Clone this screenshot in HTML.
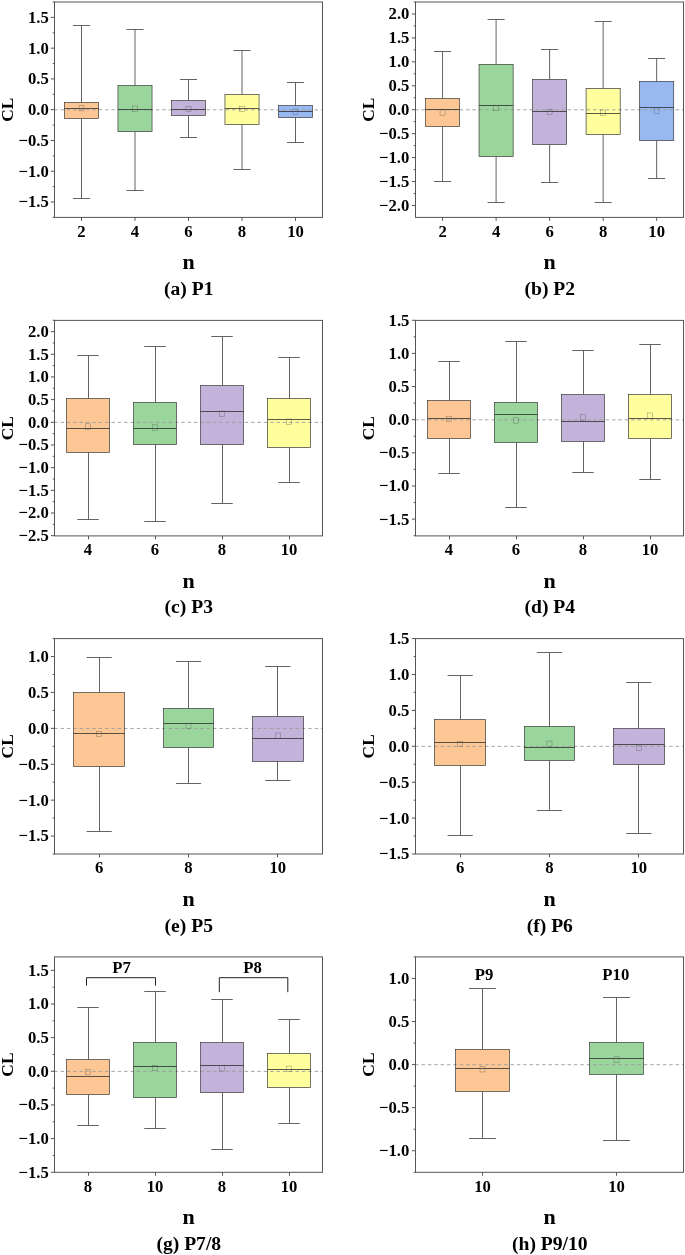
<!DOCTYPE html>
<html><head><meta charset="utf-8"><title>Box plots</title>
<style>
html,body{margin:0;padding:0;background:#fff}
svg{display:block}
text{font-family:"Liberation Serif","Times New Roman",serif;font-weight:bold;fill:#000}
.t{font-size:16.7px}
.n{font-size:22px}
.c{font-size:19.6px}
.l{font-size:17.4px}
</style></head><body>
<svg width="685" height="1255" viewBox="0 0 685 1255">
<rect width="685" height="1255" fill="#fff"/>
<g>
<path d="M81.5 25.5V102.5M81.5 118.5V198.5M72.95 25.5H90.05M72.95 198.5H90.05" stroke="#484848" stroke-width="0.85" fill="none"/>
<path d="M135 29.5V85.5M135 131.5V190.5M126.45 29.5H143.55M126.45 190.5H143.55" stroke="#484848" stroke-width="0.85" fill="none"/>
<path d="M188.5 79.5V100.5M188.5 115.5V137.5M179.95 79.5H197.05M179.95 137.5H197.05" stroke="#484848" stroke-width="0.85" fill="none"/>
<path d="M242 50.5V94.5M242 124.5V169.5M233.45 50.5H250.55M233.45 169.5H250.55" stroke="#484848" stroke-width="0.85" fill="none"/>
<path d="M295.5 82.5V105.5M295.5 117.5V142.5M286.95 82.5H304.05M286.95 142.5H304.05" stroke="#484848" stroke-width="0.85" fill="none"/>
<rect x="64.45" y="102.5" width="34.1" height="16" fill="#FCC794"/>
<rect x="117.95" y="85.5" width="34.1" height="46" fill="#9AD69C"/>
<rect x="171.45" y="100.5" width="34.1" height="15" fill="#C3B2D9"/>
<rect x="224.95" y="94.5" width="34.1" height="30" fill="#FFFF9E"/>
<rect x="278.45" y="105.5" width="34.1" height="12" fill="#98B8F2"/>
<path d="M54.2 109.8H322.5" stroke="#9c9c9c" stroke-opacity="0.9" stroke-width="1" stroke-dasharray="3.5 2.85" fill="none"/>
<rect x="64.45" y="102.5" width="34.1" height="16" fill="none" stroke="#3a3a3a" stroke-width="0.7"/>
<path d="M64.45 108.5H98.55" stroke="#2a2a2a" stroke-width="0.78"/>
<rect x="79" y="105.5" width="5" height="5.4" fill="none" stroke="#444" stroke-opacity="0.6" stroke-width="0.5"/>
<rect x="117.95" y="85.5" width="34.1" height="46" fill="none" stroke="#3a3a3a" stroke-width="0.7"/>
<path d="M117.95 109.5H152.05" stroke="#2a2a2a" stroke-width="0.78"/>
<rect x="132.5" y="106" width="5" height="5.4" fill="none" stroke="#444" stroke-opacity="0.6" stroke-width="0.5"/>
<rect x="171.45" y="100.5" width="34.1" height="15" fill="none" stroke="#3a3a3a" stroke-width="0.7"/>
<path d="M171.45 109.5H205.55" stroke="#2a2a2a" stroke-width="0.78"/>
<rect x="186" y="106.3" width="5" height="5.4" fill="none" stroke="#444" stroke-opacity="0.6" stroke-width="0.5"/>
<rect x="224.95" y="94.5" width="34.1" height="30" fill="none" stroke="#3a3a3a" stroke-width="0.7"/>
<path d="M224.95 108.5H259.05" stroke="#2a2a2a" stroke-width="0.78"/>
<rect x="239.5" y="106.3" width="5" height="5.4" fill="none" stroke="#444" stroke-opacity="0.6" stroke-width="0.5"/>
<rect x="278.45" y="105.5" width="34.1" height="12" fill="none" stroke="#3a3a3a" stroke-width="0.7"/>
<path d="M278.45 111.5H312.55" stroke="#2a2a2a" stroke-width="0.78"/>
<rect x="293" y="109.1" width="5" height="5.4" fill="none" stroke="#444" stroke-opacity="0.6" stroke-width="0.5"/>
<rect x="54.5" y="2" width="268" height="215.4" fill="none" stroke="#555" stroke-width="1"/>
<path d="M54.5 217.39h-1.8M54.5 202.01h-3.6M54.5 186.62h-1.8M54.5 171.24h-3.6M54.5 155.86h-1.8M54.5 140.47h-3.6M54.5 125.09h-1.8M54.5 109.7h-3.6M54.5 94.31h-1.8M54.5 78.93h-3.6M54.5 63.55h-1.8M54.5 48.16h-3.6M54.5 32.78h-1.8M54.5 17.39h-3.6M54.5 2.01h-1.8M81.5 217.4v3.4M135 217.4v3.4M188.5 217.4v3.4M242 217.4v3.4M295.5 217.4v3.4" stroke="#555" stroke-width="1" fill="none"/>
<text x="48.8" y="22.79" text-anchor="end" class="t">1.5</text>
<text x="48.8" y="53.56" text-anchor="end" class="t">1.0</text>
<text x="48.8" y="84.33" text-anchor="end" class="t">0.5</text>
<text x="48.8" y="115.1" text-anchor="end" class="t">0.0</text>
<text x="48.8" y="145.87" text-anchor="end" class="t">−0.5</text>
<text x="48.8" y="176.64" text-anchor="end" class="t">−1.0</text>
<text x="48.8" y="207.41" text-anchor="end" class="t">−1.5</text>
<text x="81.5" y="236.7" text-anchor="middle" class="t">2</text>
<text x="135" y="236.7" text-anchor="middle" class="t">4</text>
<text x="188.5" y="236.7" text-anchor="middle" class="t">6</text>
<text x="242" y="236.7" text-anchor="middle" class="t">8</text>
<text x="295.5" y="236.7" text-anchor="middle" class="t">10</text>
<text x="188.5" y="269.1" text-anchor="middle" class="n">n</text>
<text x="188.8" y="294.9" text-anchor="middle" class="c">(a) P1</text>
<text transform="translate(12.5 109.7) rotate(-90)" text-anchor="middle" class="l">CL</text>
</g>
<g>
<path d="M442.55 51.5V98.5M442.55 126.5V181.5M434 51.5H451.1M434 181.5H451.1" stroke="#484848" stroke-width="0.85" fill="none"/>
<path d="M496.1 19.5V64.5M496.1 156.5V202.5M487.55 19.5H504.65M487.55 202.5H504.65" stroke="#484848" stroke-width="0.85" fill="none"/>
<path d="M549.6 49.5V79.5M549.6 144.5V182.5M541.05 49.5H558.15M541.05 182.5H558.15" stroke="#484848" stroke-width="0.85" fill="none"/>
<path d="M603.15 21.5V88.5M603.15 134.5V202.5M594.6 21.5H611.7M594.6 202.5H611.7" stroke="#484848" stroke-width="0.85" fill="none"/>
<path d="M656.65 58.5V81.5M656.65 140.5V178.5M648.1 58.5H665.2M648.1 178.5H665.2" stroke="#484848" stroke-width="0.85" fill="none"/>
<rect x="425.5" y="98.5" width="34.1" height="28" fill="#FCC794"/>
<rect x="479.05" y="64.5" width="34.1" height="92" fill="#9AD69C"/>
<rect x="532.55" y="79.5" width="34.1" height="65" fill="#C3B2D9"/>
<rect x="586.1" y="88.5" width="34.1" height="46" fill="#FFFF9E"/>
<rect x="639.6" y="81.5" width="34.1" height="59" fill="#98B8F2"/>
<path d="M415.2 109.8H683.5" stroke="#9c9c9c" stroke-opacity="0.9" stroke-width="1" stroke-dasharray="3.5 2.85" fill="none"/>
<rect x="425.5" y="98.5" width="34.1" height="28" fill="none" stroke="#3a3a3a" stroke-width="0.7"/>
<path d="M425.5 109.5H459.6" stroke="#2a2a2a" stroke-width="0.78"/>
<rect x="440.05" y="109.8" width="5" height="5.4" fill="none" stroke="#444" stroke-opacity="0.6" stroke-width="0.5"/>
<rect x="479.05" y="64.5" width="34.1" height="92" fill="none" stroke="#3a3a3a" stroke-width="0.7"/>
<path d="M479.05 105.5H513.15" stroke="#2a2a2a" stroke-width="0.78"/>
<rect x="493.6" y="105.3" width="5" height="5.4" fill="none" stroke="#444" stroke-opacity="0.6" stroke-width="0.5"/>
<rect x="532.55" y="79.5" width="34.1" height="65" fill="none" stroke="#3a3a3a" stroke-width="0.7"/>
<path d="M532.55 111.5H566.65" stroke="#2a2a2a" stroke-width="0.78"/>
<rect x="547.1" y="109.3" width="5" height="5.4" fill="none" stroke="#444" stroke-opacity="0.6" stroke-width="0.5"/>
<rect x="586.1" y="88.5" width="34.1" height="46" fill="none" stroke="#3a3a3a" stroke-width="0.7"/>
<path d="M586.1 113.5H620.2" stroke="#2a2a2a" stroke-width="0.78"/>
<rect x="600.65" y="110" width="5" height="5.4" fill="none" stroke="#444" stroke-opacity="0.6" stroke-width="0.5"/>
<rect x="639.6" y="81.5" width="34.1" height="59" fill="none" stroke="#3a3a3a" stroke-width="0.7"/>
<path d="M639.6 107.5H673.7" stroke="#2a2a2a" stroke-width="0.78"/>
<rect x="654.15" y="108" width="5" height="5.4" fill="none" stroke="#444" stroke-opacity="0.6" stroke-width="0.5"/>
<rect x="415.5" y="2" width="268" height="215.4" fill="none" stroke="#555" stroke-width="1"/>
<path d="M415.5 205.44h-3.6M415.5 193.47h-1.8M415.5 181.5h-3.6M415.5 169.54h-1.8M415.5 157.57h-3.6M415.5 145.6h-1.8M415.5 133.63h-3.6M415.5 121.67h-1.8M415.5 109.7h-3.6M415.5 97.73h-1.8M415.5 85.77h-3.6M415.5 73.8h-1.8M415.5 61.83h-3.6M415.5 49.86h-1.8M415.5 37.9h-3.6M415.5 25.93h-1.8M415.5 13.96h-3.6M415.5 1.99h-1.8M442.55 217.4v3.4M496.1 217.4v3.4M549.6 217.4v3.4M603.15 217.4v3.4M656.65 217.4v3.4" stroke="#555" stroke-width="1" fill="none"/>
<text x="409.4" y="19.36" text-anchor="end" class="t">2.0</text>
<text x="409.4" y="43.3" text-anchor="end" class="t">1.5</text>
<text x="409.4" y="67.23" text-anchor="end" class="t">1.0</text>
<text x="409.4" y="91.17" text-anchor="end" class="t">0.5</text>
<text x="409.4" y="115.1" text-anchor="end" class="t">0.0</text>
<text x="409.4" y="139.03" text-anchor="end" class="t">−0.5</text>
<text x="409.4" y="162.97" text-anchor="end" class="t">−1.0</text>
<text x="409.4" y="186.91" text-anchor="end" class="t">−1.5</text>
<text x="409.4" y="210.84" text-anchor="end" class="t">−2.0</text>
<text x="442.55" y="236.7" text-anchor="middle" class="t">2</text>
<text x="496.1" y="236.7" text-anchor="middle" class="t">4</text>
<text x="549.6" y="236.7" text-anchor="middle" class="t">6</text>
<text x="603.15" y="236.7" text-anchor="middle" class="t">8</text>
<text x="656.65" y="236.7" text-anchor="middle" class="t">10</text>
<text x="549.5" y="269.1" text-anchor="middle" class="n">n</text>
<text x="549.8" y="294.9" text-anchor="middle" class="c">(b) P2</text>
<text transform="translate(373.5 109.7) rotate(-90)" text-anchor="middle" class="l">CL</text>
</g>
<g>
<path d="M88.5 355.5V398.5M88.5 452.5V519.5M77.25 355.5H98.75M77.25 519.5H98.75" stroke="#484848" stroke-width="0.85" fill="none"/>
<path d="M155.5 346.5V402.5M155.5 444.5V521.5M144.25 346.5H165.75M144.25 521.5H165.75" stroke="#484848" stroke-width="0.85" fill="none"/>
<path d="M222.5 336.5V385.5M222.5 444.5V503.5M211.25 336.5H232.75M211.25 503.5H232.75" stroke="#484848" stroke-width="0.85" fill="none"/>
<path d="M289.5 357.5V398.5M289.5 447.5V482.5M278.25 357.5H299.75M278.25 482.5H299.75" stroke="#484848" stroke-width="0.85" fill="none"/>
<rect x="66.5" y="398.5" width="43" height="54" fill="#FCC794"/>
<rect x="133.5" y="402.5" width="43" height="42" fill="#9AD69C"/>
<rect x="200.5" y="385.5" width="43" height="59" fill="#C3B2D9"/>
<rect x="267.5" y="398.5" width="43" height="49" fill="#FFFF9E"/>
<path d="M54.2 422.4H322.5" stroke="#9c9c9c" stroke-opacity="0.9" stroke-width="1" stroke-dasharray="3.5 2.85" fill="none"/>
<rect x="66.5" y="398.5" width="43" height="54" fill="none" stroke="#3a3a3a" stroke-width="0.7"/>
<path d="M66.5 428.5H109.5" stroke="#2a2a2a" stroke-width="0.78"/>
<rect x="85.5" y="423.8" width="5" height="5.4" fill="none" stroke="#444" stroke-opacity="0.6" stroke-width="0.5"/>
<rect x="133.5" y="402.5" width="43" height="42" fill="none" stroke="#3a3a3a" stroke-width="0.7"/>
<path d="M133.5 428.5H176.5" stroke="#2a2a2a" stroke-width="0.78"/>
<rect x="152.5" y="424.8" width="5" height="5.4" fill="none" stroke="#444" stroke-opacity="0.6" stroke-width="0.5"/>
<rect x="200.5" y="385.5" width="43" height="59" fill="none" stroke="#3a3a3a" stroke-width="0.7"/>
<path d="M200.5 411.5H243.5" stroke="#2a2a2a" stroke-width="0.78"/>
<rect x="219.5" y="411" width="5" height="5.4" fill="none" stroke="#444" stroke-opacity="0.6" stroke-width="0.5"/>
<rect x="267.5" y="398.5" width="43" height="49" fill="none" stroke="#3a3a3a" stroke-width="0.7"/>
<path d="M267.5 419.5H310.5" stroke="#2a2a2a" stroke-width="0.78"/>
<rect x="286.5" y="419" width="5" height="5.4" fill="none" stroke="#444" stroke-opacity="0.6" stroke-width="0.5"/>
<rect x="54.5" y="320.4" width="268" height="215.5" fill="none" stroke="#555" stroke-width="1"/>
<path d="M54.5 535.67h-3.6M54.5 524.34h-1.8M54.5 513h-3.6M54.5 501.66h-1.8M54.5 490.33h-3.6M54.5 478.99h-1.8M54.5 467.65h-3.6M54.5 456.31h-1.8M54.5 444.98h-3.6M54.5 433.64h-1.8M54.5 422.3h-3.6M54.5 410.96h-1.8M54.5 399.62h-3.6M54.5 388.29h-1.8M54.5 376.95h-3.6M54.5 365.61h-1.8M54.5 354.27h-3.6M54.5 342.94h-1.8M54.5 331.6h-3.6M54.5 320.26h-1.8M88.5 535.9v3.4M155.5 535.9v3.4M222.5 535.9v3.4M289.5 535.9v3.4" stroke="#555" stroke-width="1" fill="none"/>
<text x="48.8" y="337" text-anchor="end" class="t">2.0</text>
<text x="48.8" y="359.67" text-anchor="end" class="t">1.5</text>
<text x="48.8" y="382.35" text-anchor="end" class="t">1.0</text>
<text x="48.8" y="405.02" text-anchor="end" class="t">0.5</text>
<text x="48.8" y="427.7" text-anchor="end" class="t">0.0</text>
<text x="48.8" y="450.38" text-anchor="end" class="t">−0.5</text>
<text x="48.8" y="473.05" text-anchor="end" class="t">−1.0</text>
<text x="48.8" y="495.73" text-anchor="end" class="t">−1.5</text>
<text x="48.8" y="518.4" text-anchor="end" class="t">−2.0</text>
<text x="48.8" y="541.07" text-anchor="end" class="t">−2.5</text>
<text x="88" y="555.2" text-anchor="middle" class="t">4</text>
<text x="155" y="555.2" text-anchor="middle" class="t">6</text>
<text x="222" y="555.2" text-anchor="middle" class="t">8</text>
<text x="289" y="555.2" text-anchor="middle" class="t">10</text>
<text x="188.5" y="587.6" text-anchor="middle" class="n">n</text>
<text x="188.8" y="613.4" text-anchor="middle" class="c">(c) P3</text>
<text transform="translate(12.5 428.15) rotate(-90)" text-anchor="middle" class="l">CL</text>
</g>
<g>
<path d="M449.5 361.5V400.5M449.5 438.5V473.5M438.25 361.5H459.75M438.25 473.5H459.75" stroke="#484848" stroke-width="0.85" fill="none"/>
<path d="M516.5 341.5V402.5M516.5 442.5V507.5M505.25 341.5H526.75M505.25 507.5H526.75" stroke="#484848" stroke-width="0.85" fill="none"/>
<path d="M583.5 350.5V394.5M583.5 441.5V472.5M572.25 350.5H593.75M572.25 472.5H593.75" stroke="#484848" stroke-width="0.85" fill="none"/>
<path d="M650.5 344.5V394.5M650.5 438.5V479.5M639.25 344.5H660.75M639.25 479.5H660.75" stroke="#484848" stroke-width="0.85" fill="none"/>
<rect x="427.5" y="400.5" width="43" height="38" fill="#FCC794"/>
<rect x="494.5" y="402.5" width="43" height="40" fill="#9AD69C"/>
<rect x="561.5" y="394.5" width="43" height="47" fill="#C3B2D9"/>
<rect x="628.5" y="394.5" width="43" height="44" fill="#FFFF9E"/>
<path d="M415.2 419.8H683.5" stroke="#9c9c9c" stroke-opacity="0.9" stroke-width="1" stroke-dasharray="3.5 2.85" fill="none"/>
<rect x="427.5" y="400.5" width="43" height="38" fill="none" stroke="#3a3a3a" stroke-width="0.7"/>
<path d="M427.5 418.5H470.5" stroke="#2a2a2a" stroke-width="0.78"/>
<rect x="446.5" y="416.3" width="5" height="5.4" fill="none" stroke="#444" stroke-opacity="0.6" stroke-width="0.5"/>
<rect x="494.5" y="402.5" width="43" height="40" fill="none" stroke="#3a3a3a" stroke-width="0.7"/>
<path d="M494.5 414.5H537.5" stroke="#2a2a2a" stroke-width="0.78"/>
<rect x="513.5" y="417.8" width="5" height="5.4" fill="none" stroke="#444" stroke-opacity="0.6" stroke-width="0.5"/>
<rect x="561.5" y="394.5" width="43" height="47" fill="none" stroke="#3a3a3a" stroke-width="0.7"/>
<path d="M561.5 421.5H604.5" stroke="#2a2a2a" stroke-width="0.78"/>
<rect x="580.5" y="414.8" width="5" height="5.4" fill="none" stroke="#444" stroke-opacity="0.6" stroke-width="0.5"/>
<rect x="628.5" y="394.5" width="43" height="44" fill="none" stroke="#3a3a3a" stroke-width="0.7"/>
<path d="M628.5 418.5H671.5" stroke="#2a2a2a" stroke-width="0.78"/>
<rect x="647.5" y="413" width="5" height="5.4" fill="none" stroke="#444" stroke-opacity="0.6" stroke-width="0.5"/>
<rect x="415.5" y="320.4" width="268" height="215.5" fill="none" stroke="#555" stroke-width="1"/>
<path d="M415.5 535.69h-1.8M415.5 519.12h-3.6M415.5 502.55h-1.8M415.5 485.98h-3.6M415.5 469.41h-1.8M415.5 452.84h-3.6M415.5 436.27h-1.8M415.5 419.7h-3.6M415.5 403.13h-1.8M415.5 386.56h-3.6M415.5 369.99h-1.8M415.5 353.42h-3.6M415.5 336.85h-1.8M415.5 320.28h-3.6M449.5 535.9v3.4M516.5 535.9v3.4M583.5 535.9v3.4M650.5 535.9v3.4" stroke="#555" stroke-width="1" fill="none"/>
<text x="409.4" y="325.68" text-anchor="end" class="t">1.5</text>
<text x="409.4" y="358.82" text-anchor="end" class="t">1.0</text>
<text x="409.4" y="391.96" text-anchor="end" class="t">0.5</text>
<text x="409.4" y="425.1" text-anchor="end" class="t">0.0</text>
<text x="409.4" y="458.24" text-anchor="end" class="t">−0.5</text>
<text x="409.4" y="491.38" text-anchor="end" class="t">−1.0</text>
<text x="409.4" y="524.52" text-anchor="end" class="t">−1.5</text>
<text x="449" y="555.2" text-anchor="middle" class="t">4</text>
<text x="516" y="555.2" text-anchor="middle" class="t">6</text>
<text x="583" y="555.2" text-anchor="middle" class="t">8</text>
<text x="650" y="555.2" text-anchor="middle" class="t">10</text>
<text x="549.5" y="587.6" text-anchor="middle" class="n">n</text>
<text x="549.8" y="613.4" text-anchor="middle" class="c">(d) P4</text>
<text transform="translate(373.5 428.15) rotate(-90)" text-anchor="middle" class="l">CL</text>
</g>
<g>
<path d="M99.5 657.5V692.5M99.5 766.5V831.5M86.57 657.5H111.77M86.57 831.5H111.77" stroke="#484848" stroke-width="0.85" fill="none"/>
<path d="M188.5 661.5V708.5M188.5 747.5V783.5M175.9 661.5H201.1M175.9 783.5H201.1" stroke="#484848" stroke-width="0.85" fill="none"/>
<path d="M277.5 666.5V716.5M277.5 761.5V780.5M265.23 666.5H290.43M265.23 780.5H290.43" stroke="#484848" stroke-width="0.85" fill="none"/>
<rect x="73.5" y="692.5" width="51" height="74" fill="#FCC794"/>
<rect x="163.5" y="708.5" width="50" height="39" fill="#9AD69C"/>
<rect x="252.5" y="716.5" width="51" height="45" fill="#C3B2D9"/>
<path d="M54.2 728.45H322.5" stroke="#9c9c9c" stroke-opacity="0.9" stroke-width="1" stroke-dasharray="3.5 2.85" fill="none"/>
<rect x="73.5" y="692.5" width="51" height="74" fill="none" stroke="#3a3a3a" stroke-width="0.7"/>
<path d="M73.5 733.5H124.5" stroke="#2a2a2a" stroke-width="0.78"/>
<rect x="96.67" y="731.3" width="5" height="5.4" fill="none" stroke="#444" stroke-opacity="0.6" stroke-width="0.5"/>
<rect x="163.5" y="708.5" width="50" height="39" fill="none" stroke="#3a3a3a" stroke-width="0.7"/>
<path d="M163.5 723.5H213.5" stroke="#2a2a2a" stroke-width="0.78"/>
<rect x="186" y="723.2" width="5" height="5.4" fill="none" stroke="#444" stroke-opacity="0.6" stroke-width="0.5"/>
<rect x="252.5" y="716.5" width="51" height="45" fill="none" stroke="#3a3a3a" stroke-width="0.7"/>
<path d="M252.5 738.5H303.5" stroke="#2a2a2a" stroke-width="0.78"/>
<rect x="275.33" y="733" width="5" height="5.4" fill="none" stroke="#444" stroke-opacity="0.6" stroke-width="0.5"/>
<rect x="54.5" y="638.6" width="268" height="215.4" fill="none" stroke="#555" stroke-width="1"/>
<path d="M54.5 854h-1.8M54.5 836.05h-3.6M54.5 818.1h-1.8M54.5 800.15h-3.6M54.5 782.2h-1.8M54.5 764.25h-3.6M54.5 746.3h-1.8M54.5 728.35h-3.6M54.5 710.4h-1.8M54.5 692.45h-3.6M54.5 674.5h-1.8M54.5 656.55h-3.6M54.5 638.6h-1.8M99.5 854v3.4M188.5 854v3.4M277.5 854v3.4" stroke="#555" stroke-width="1" fill="none"/>
<text x="48.8" y="661.95" text-anchor="end" class="t">1.0</text>
<text x="48.8" y="697.85" text-anchor="end" class="t">0.5</text>
<text x="48.8" y="733.75" text-anchor="end" class="t">0.0</text>
<text x="48.8" y="769.65" text-anchor="end" class="t">−0.5</text>
<text x="48.8" y="805.55" text-anchor="end" class="t">−1.0</text>
<text x="48.8" y="841.45" text-anchor="end" class="t">−1.5</text>
<text x="99.17" y="873.3" text-anchor="middle" class="t">6</text>
<text x="188.5" y="873.3" text-anchor="middle" class="t">8</text>
<text x="277.83" y="873.3" text-anchor="middle" class="t">10</text>
<text x="188.5" y="905.7" text-anchor="middle" class="n">n</text>
<text x="188.8" y="931.5" text-anchor="middle" class="c">(e) P5</text>
<text transform="translate(12.5 746.3) rotate(-90)" text-anchor="middle" class="l">CL</text>
</g>
<g>
<path d="M460.5 675.5V719.5M460.5 765.5V835.5M447.57 675.5H472.77M447.57 835.5H472.77" stroke="#484848" stroke-width="0.85" fill="none"/>
<path d="M549.5 652.5V726.5M549.5 760.5V810.5M536.9 652.5H562.1M536.9 810.5H562.1" stroke="#484848" stroke-width="0.85" fill="none"/>
<path d="M638.5 682.5V728.5M638.5 764.5V833.5M626.23 682.5H651.43M626.23 833.5H651.43" stroke="#484848" stroke-width="0.85" fill="none"/>
<rect x="434.5" y="719.5" width="51" height="46" fill="#FCC794"/>
<rect x="524.5" y="726.5" width="50" height="34" fill="#9AD69C"/>
<rect x="613.5" y="728.5" width="51" height="36" fill="#C3B2D9"/>
<path d="M415.2 746.4H683.5" stroke="#9c9c9c" stroke-opacity="0.9" stroke-width="1" stroke-dasharray="3.5 2.85" fill="none"/>
<rect x="434.5" y="719.5" width="51" height="46" fill="none" stroke="#3a3a3a" stroke-width="0.7"/>
<path d="M434.5 742.5H485.5" stroke="#2a2a2a" stroke-width="0.78"/>
<rect x="457.67" y="741.3" width="5" height="5.4" fill="none" stroke="#444" stroke-opacity="0.6" stroke-width="0.5"/>
<rect x="524.5" y="726.5" width="50" height="34" fill="none" stroke="#3a3a3a" stroke-width="0.7"/>
<path d="M524.5 747.5H574.5" stroke="#2a2a2a" stroke-width="0.78"/>
<rect x="547" y="741.1" width="5" height="5.4" fill="none" stroke="#444" stroke-opacity="0.6" stroke-width="0.5"/>
<rect x="613.5" y="728.5" width="51" height="36" fill="none" stroke="#3a3a3a" stroke-width="0.7"/>
<path d="M613.5 744.5H664.5" stroke="#2a2a2a" stroke-width="0.78"/>
<rect x="636.33" y="745.1" width="5" height="5.4" fill="none" stroke="#444" stroke-opacity="0.6" stroke-width="0.5"/>
<rect x="415.5" y="638.6" width="268" height="215.4" fill="none" stroke="#555" stroke-width="1"/>
<path d="M415.5 854h-3.6M415.5 836.05h-1.8M415.5 818.1h-3.6M415.5 800.15h-1.8M415.5 782.2h-3.6M415.5 764.25h-1.8M415.5 746.3h-3.6M415.5 728.35h-1.8M415.5 710.4h-3.6M415.5 692.45h-1.8M415.5 674.5h-3.6M415.5 656.55h-1.8M415.5 638.6h-3.6M460.5 854v3.4M549.5 854v3.4M638.5 854v3.4" stroke="#555" stroke-width="1" fill="none"/>
<text x="409.4" y="644" text-anchor="end" class="t">1.5</text>
<text x="409.4" y="679.9" text-anchor="end" class="t">1.0</text>
<text x="409.4" y="715.8" text-anchor="end" class="t">0.5</text>
<text x="409.4" y="751.7" text-anchor="end" class="t">0.0</text>
<text x="409.4" y="787.6" text-anchor="end" class="t">−0.5</text>
<text x="409.4" y="823.5" text-anchor="end" class="t">−1.0</text>
<text x="409.4" y="859.4" text-anchor="end" class="t">−1.5</text>
<text x="460.17" y="873.3" text-anchor="middle" class="t">6</text>
<text x="549.5" y="873.3" text-anchor="middle" class="t">8</text>
<text x="638.83" y="873.3" text-anchor="middle" class="t">10</text>
<text x="549.5" y="905.7" text-anchor="middle" class="n">n</text>
<text x="549.8" y="931.5" text-anchor="middle" class="c">(f) P6</text>
<text transform="translate(373.5 746.3) rotate(-90)" text-anchor="middle" class="l">CL</text>
</g>
<g>
<path d="M88.5 1007.5V1059.5M88.5 1094.5V1125.5M77.25 1007.5H98.75M77.25 1125.5H98.75" stroke="#484848" stroke-width="0.85" fill="none"/>
<path d="M155.5 991.5V1042.5M155.5 1097.5V1128.5M144.25 991.5H165.75M144.25 1128.5H165.75" stroke="#484848" stroke-width="0.85" fill="none"/>
<path d="M222.5 999.5V1042.5M222.5 1092.5V1149.5M211.25 999.5H232.75M211.25 1149.5H232.75" stroke="#484848" stroke-width="0.85" fill="none"/>
<path d="M289.5 1019.5V1053.5M289.5 1087.5V1123.5M278.25 1019.5H299.75M278.25 1123.5H299.75" stroke="#484848" stroke-width="0.85" fill="none"/>
<rect x="66.5" y="1059.5" width="43" height="35" fill="#FCC794"/>
<rect x="133.5" y="1042.5" width="43" height="55" fill="#9AD69C"/>
<rect x="200.5" y="1042.5" width="43" height="50" fill="#C3B2D9"/>
<rect x="267.5" y="1053.5" width="43" height="34" fill="#FFFF9E"/>
<path d="M54.2 1071.4H322.5" stroke="#9c9c9c" stroke-opacity="0.9" stroke-width="1" stroke-dasharray="3.5 2.85" fill="none"/>
<rect x="66.5" y="1059.5" width="43" height="35" fill="none" stroke="#3a3a3a" stroke-width="0.7"/>
<path d="M66.5 1076.5H109.5" stroke="#2a2a2a" stroke-width="0.78"/>
<rect x="85.5" y="1069.4" width="5" height="5.4" fill="none" stroke="#444" stroke-opacity="0.6" stroke-width="0.5"/>
<rect x="133.5" y="1042.5" width="43" height="55" fill="none" stroke="#3a3a3a" stroke-width="0.7"/>
<path d="M133.5 1066.5H176.5" stroke="#2a2a2a" stroke-width="0.78"/>
<rect x="152.5" y="1065.3" width="5" height="5.4" fill="none" stroke="#444" stroke-opacity="0.6" stroke-width="0.5"/>
<rect x="200.5" y="1042.5" width="43" height="50" fill="none" stroke="#3a3a3a" stroke-width="0.7"/>
<path d="M200.5 1065.5H243.5" stroke="#2a2a2a" stroke-width="0.78"/>
<rect x="219.5" y="1065.6" width="5" height="5.4" fill="none" stroke="#444" stroke-opacity="0.6" stroke-width="0.5"/>
<rect x="267.5" y="1053.5" width="43" height="34" fill="none" stroke="#3a3a3a" stroke-width="0.7"/>
<path d="M267.5 1069.5H310.5" stroke="#2a2a2a" stroke-width="0.78"/>
<rect x="286.5" y="1066.1" width="5" height="5.4" fill="none" stroke="#444" stroke-opacity="0.6" stroke-width="0.5"/>
<rect x="54.5" y="956.9" width="268" height="215.4" fill="none" stroke="#555" stroke-width="1"/>
<path d="M54.5 1172.25h-3.6M54.5 1155.42h-1.8M54.5 1138.6h-3.6M54.5 1121.77h-1.8M54.5 1104.95h-3.6M54.5 1088.12h-1.8M54.5 1071.3h-3.6M54.5 1054.47h-1.8M54.5 1037.65h-3.6M54.5 1020.82h-1.8M54.5 1004h-3.6M54.5 987.17h-1.8M54.5 970.35h-3.6M88.5 1172.3v3.4M155.5 1172.3v3.4M222.5 1172.3v3.4M289.5 1172.3v3.4" stroke="#555" stroke-width="1" fill="none"/>
<text x="48.8" y="975.75" text-anchor="end" class="t">1.5</text>
<text x="48.8" y="1009.4" text-anchor="end" class="t">1.0</text>
<text x="48.8" y="1043.05" text-anchor="end" class="t">0.5</text>
<text x="48.8" y="1076.7" text-anchor="end" class="t">0.0</text>
<text x="48.8" y="1110.35" text-anchor="end" class="t">−0.5</text>
<text x="48.8" y="1144" text-anchor="end" class="t">−1.0</text>
<text x="48.8" y="1177.65" text-anchor="end" class="t">−1.5</text>
<text x="88" y="1191.6" text-anchor="middle" class="t">8</text>
<text x="155" y="1191.6" text-anchor="middle" class="t">10</text>
<text x="222" y="1191.6" text-anchor="middle" class="t">8</text>
<text x="289" y="1191.6" text-anchor="middle" class="t">10</text>
<text x="188.5" y="1224" text-anchor="middle" class="n">n</text>
<text x="188.8" y="1249.8" text-anchor="middle" class="c">(g) P7/8</text>
<text transform="translate(12.5 1064.6) rotate(-90)" text-anchor="middle" class="l">CL</text>
<path d="M86.5 985.7V977.7H155.5V985.7M219.3 992.2V977.7H287.8V992.2" fill="none" stroke="#222" stroke-width="1"/>
<text x="121.5" y="973.3" text-anchor="middle" class="t">P7</text><text x="252.5" y="973" text-anchor="middle" class="t">P8</text>
</g>
<g>
<path d="M482.5 988.5V1049.5M482.5 1091.5V1138.5M469 988.5H496M469 1138.5H496" stroke="#484848" stroke-width="0.85" fill="none"/>
<path d="M616.5 997.5V1042.5M616.5 1074.5V1140.5M603 997.5H630M603 1140.5H630" stroke="#484848" stroke-width="0.85" fill="none"/>
<rect x="455.5" y="1049.5" width="54" height="42" fill="#FCC794"/>
<rect x="589.5" y="1042.5" width="54" height="32" fill="#9AD69C"/>
<path d="M415.2 1064.7H683.5" stroke="#9c9c9c" stroke-opacity="0.9" stroke-width="1" stroke-dasharray="3.5 2.85" fill="none"/>
<rect x="455.5" y="1049.5" width="54" height="42" fill="none" stroke="#3a3a3a" stroke-width="0.7"/>
<path d="M455.5 1068.5H509.5" stroke="#2a2a2a" stroke-width="0.78"/>
<rect x="480" y="1066.6" width="5" height="5.4" fill="none" stroke="#444" stroke-opacity="0.6" stroke-width="0.5"/>
<rect x="589.5" y="1042.5" width="54" height="32" fill="none" stroke="#3a3a3a" stroke-width="0.7"/>
<path d="M589.5 1058.5H643.5" stroke="#2a2a2a" stroke-width="0.78"/>
<rect x="614" y="1056.8" width="5" height="5.4" fill="none" stroke="#444" stroke-opacity="0.6" stroke-width="0.5"/>
<rect x="415.5" y="956.9" width="268" height="215.4" fill="none" stroke="#555" stroke-width="1"/>
<path d="M415.5 1172.3h-1.8M415.5 1150.76h-3.6M415.5 1129.22h-1.8M415.5 1107.68h-3.6M415.5 1086.14h-1.8M415.5 1064.6h-3.6M415.5 1043.06h-1.8M415.5 1021.52h-3.6M415.5 999.98h-1.8M415.5 978.44h-3.6M415.5 956.9h-1.8M482.5 1172.3v3.4M616.5 1172.3v3.4" stroke="#555" stroke-width="1" fill="none"/>
<text x="409.4" y="983.84" text-anchor="end" class="t">1.0</text>
<text x="409.4" y="1026.92" text-anchor="end" class="t">0.5</text>
<text x="409.4" y="1070" text-anchor="end" class="t">0.0</text>
<text x="409.4" y="1113.08" text-anchor="end" class="t">−0.5</text>
<text x="409.4" y="1156.16" text-anchor="end" class="t">−1.0</text>
<text x="482.5" y="1191.6" text-anchor="middle" class="t">10</text>
<text x="616.5" y="1191.6" text-anchor="middle" class="t">10</text>
<text x="549.5" y="1224" text-anchor="middle" class="n">n</text>
<text x="549.8" y="1249.8" text-anchor="middle" class="c">(h) P9/10</text>
<text transform="translate(373.5 1064.6) rotate(-90)" text-anchor="middle" class="l">CL</text>
<text x="484" y="980.2" text-anchor="middle" class="t">P9</text><text x="615.8" y="980.2" text-anchor="middle" class="t">P10</text>
</g>
</svg>
</body></html>
